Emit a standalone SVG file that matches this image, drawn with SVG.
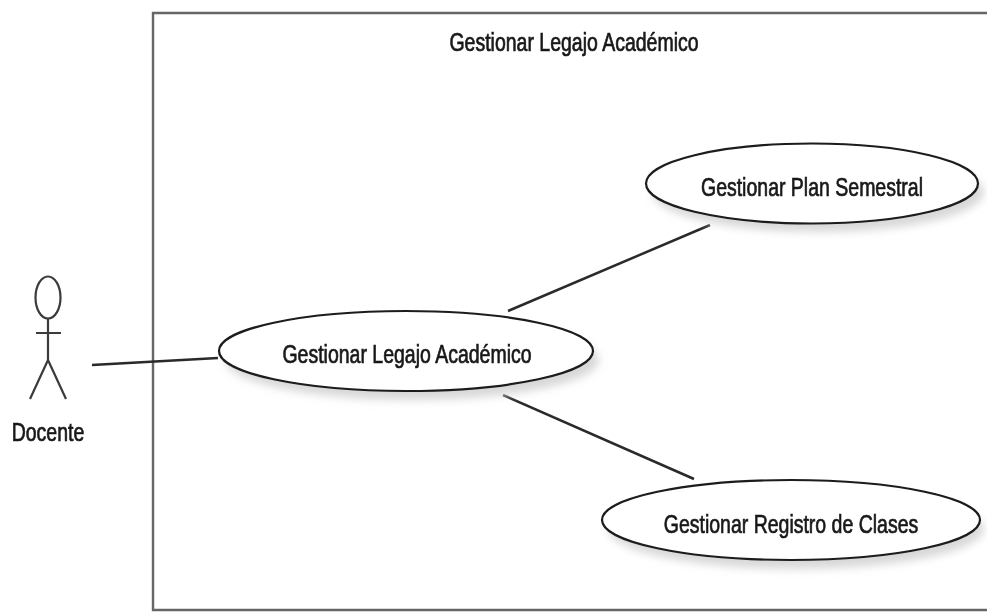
<svg xmlns="http://www.w3.org/2000/svg" width="987" height="616" viewBox="0 0 987 616">
<defs><filter id="b" x="-10%" y="-30%" width="120%" height="160%"><feGaussianBlur stdDeviation="4"/></filter><filter id="soft" x="-2%" y="-2%" width="104%" height="104%"><feGaussianBlur stdDeviation="0.5"/></filter></defs>
<style>
.l{fill:none;stroke:#2a2a2a;stroke-width:2.5}
.a{fill:none;stroke:#3a3a3a;stroke-width:2.2}
.f{fill:none;stroke:#666;stroke-width:2.4}
.u{fill:#fff;stroke:#1c1c1c;stroke-width:2.2}
.s{fill:#d8d8d8;filter:url(#b)}
text{font-family:"Liberation Sans",Arial,sans-serif;font-size:25px;fill:#1a1a1a;text-anchor:middle;stroke:#1a1a1a;stroke-width:.7}
</style>
<rect width="987" height="616" fill="#fff"/>
<g filter="url(#soft)">
<g id="boundary"><path class="f" d="M987 13H153V610H987"/><text transform="translate(574 51) scale(.78 1)">Gestionar Legajo Académico</text></g>
<g id="connectors"><path class="l" d="M92 365L218 358M508 311L710 225M503 395L694 479"/></g>
<g id="actor-docente"><ellipse class="a" cx="48" cy="297.500" rx="12.500" ry="21"/><path class="a" d="M48 319V360M36 333H61M48 360L30 399M48 360L66 399"/><text transform="translate(48 441) scale(.78 1)">Docente</text></g>
<g id="uc-legajo"><ellipse class="s" cx="412" cy="360" rx="187" ry="40"/><ellipse class="u" cx="406" cy="351" rx="187" ry="40"/><text transform="translate(407 363) scale(.78 1)">Gestionar Legajo Académico</text></g>
<g id="uc-plan"><ellipse class="s" cx="818" cy="192" rx="166" ry="40"/><ellipse class="u" cx="812" cy="183.500" rx="166" ry="40"/><text transform="translate(812 196) scale(.78 1)">Gestionar Plan Semestral</text></g>
<g id="uc-registro"><ellipse class="s" cx="796" cy="529" rx="188" ry="40"/><ellipse class="u" cx="791" cy="520" rx="189" ry="40"/><text transform="translate(791 533) scale(.78 1)">Gestionar Registro de Clases</text></g>
</g>
</svg>
